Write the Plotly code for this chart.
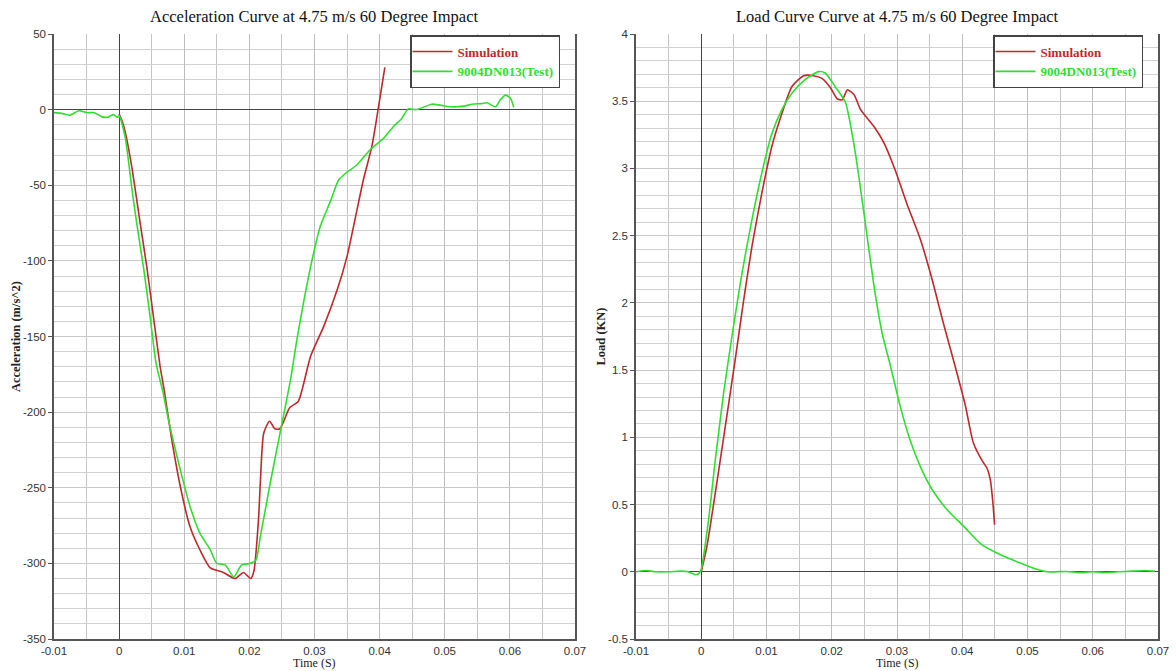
import plotly.graph_objects as go

# ---------------- data ----------------
acc_sim_t = [0.0, 0.0005, 0.001, 0.00195, 0.00323, 0.00425, 0.00527, 0.0063, 0.0069, 0.0080,
             0.00939, 0.0109, 0.0124, 0.0140, 0.0160, 0.0178, 0.0191, 0.0202, 0.0207, 0.0214,
             0.0217, 0.0222, 0.0231, 0.0239, 0.0247, 0.0262, 0.0275, 0.0294, 0.0314, 0.0335,
             0.0350, 0.0363, 0.0375, 0.0388, 0.0398, 0.0408]
acc_sim_v = [-3, -8, -16, -38, -75, -104, -137, -170, -185, -216,
             -249, -276, -291, -303, -306, -310, -306, -310, -305, -271,
             -245, -214, -206, -211, -211, -197, -193, -163, -143.5, -119,
             -97, -71, -46.5, -24.5, 1, 28]

acc_test_t = [-0.01, -0.0088, -0.0076, -0.0062, -0.005, -0.0038, -0.0026, -0.00175, -0.00086, -0.00026,
              0.0, 0.00092, 0.00204, 0.0027, 0.00373, 0.00476, 0.00568, 0.0068, 0.00757, 0.00939,
              0.0109, 0.0124, 0.0140, 0.0150, 0.0163, 0.0176, 0.0188, 0.0201, 0.0210, 0.0217,
              0.0232, 0.0247, 0.0263, 0.0273, 0.0294, 0.0309, 0.0325, 0.0337, 0.0348, 0.0365,
              0.0385, 0.0406, 0.0421, 0.0434, 0.0444, 0.0454, 0.0459, 0.0480, 0.0493, 0.0508,
              0.0529, 0.0542, 0.0557, 0.0565, 0.0578, 0.0585, 0.0593, 0.0601, 0.0606]
acc_test_v = [-2, -2.5, -3.7, -0.7, -2, -2, -4.8, -5, -3.3, -5,
              -4, -18, -55, -75, -104, -137, -168, -188, -205, -238,
              -262.5, -280, -291, -300, -301, -309, -301, -300, -298, -282,
              -247, -214, -179, -152, -104, -77, -60, -46.5, -42, -36.6,
              -26.7, -19, -11.3, -5.8, 0.5, 0, 0.3, 3.6, 3, 1.9,
              2.3, 3.6, 4, 4.5, 1.9, 6.3, 9.6, 7.5, 1.5]

load_sim_t = [0.0, 0.00087, 0.00215, 0.00368, 0.00521, 0.0065, 0.00777, 0.0093, 0.01083, 0.01237,
              0.0139, 0.0157, 0.0172, 0.0185, 0.0198, 0.0208, 0.0216, 0.0224, 0.0234, 0.0244,
              0.0265, 0.0280, 0.0297, 0.0315, 0.0336, 0.0354, 0.0371, 0.0389, 0.0405, 0.0417,
              0.0430, 0.0438, 0.0443, 0.0447, 0.04495]
load_sim_v = [0.0, 0.19, 0.585, 1.08, 1.58, 2.02, 2.42, 2.82, 3.165, 3.41,
              3.61, 3.69, 3.69, 3.67, 3.60, 3.52, 3.51, 3.585, 3.55, 3.44,
              3.31, 3.19, 2.99, 2.74, 2.47, 2.17, 1.85, 1.53, 1.23, 0.96,
              0.83, 0.77, 0.685, 0.51, 0.35]

load_test_t = [-0.01, -0.0085, -0.007, -0.005, -0.003, -0.002, -0.0009, -0.0003, 0.0, 0.00113,
               0.00215, 0.00343, 0.0047, 0.00624, 0.00777, 0.0093, 0.01083, 0.01237, 0.0139, 0.0159,
               0.0180, 0.0190, 0.0205, 0.0221, 0.0236, 0.0249, 0.0264, 0.0277, 0.0290, 0.0305,
               0.0320, 0.0336, 0.0354, 0.0377, 0.0402, 0.0428, 0.0453, 0.0489, 0.0513, 0.0530,
               0.0560, 0.0580, 0.0600, 0.0620, 0.0640, 0.0660, 0.0680, 0.0695]
load_test_v = [0.0, 0.01, 0.0, 0.0, 0.005, 0.0, -0.022, -0.01, 0.02, 0.39,
               0.83, 1.33, 1.75, 2.22, 2.62, 2.97, 3.26, 3.44, 3.56, 3.66,
               3.72, 3.71, 3.61, 3.49, 3.12, 2.68, 2.15, 1.78, 1.53, 1.23,
               0.98, 0.78, 0.61, 0.46, 0.34, 0.21, 0.14, 0.065, 0.02, 0.0,
               0.002, -0.005, 0.0, -0.005, 0.0, 0.005, 0.01, 0.005]

x_tickvals = [-0.01, 0, 0.01, 0.02, 0.03, 0.04, 0.05, 0.06, 0.07]
x_ticktext = ["-0.01", "0", "0.01", "0.02", "0.03", "0.04", "0.05", "0.06", "0.07"]
acc_tickvals = [50, 0, -50, -100, -150, -200, -250, -300, -350]
acc_ticktext = ["50", "0", "-50", "-100", "-150", "-200", "-250", "-300", "-350"]
load_tickvals = [4, 3.5, 3, 2.5, 2, 1.5, 1, 0.5, 0, -0.5]
load_ticktext = ["4", "3.5", "3", "2.5", "2", "1.5", "1", "0.5", "0", "-0.5"]

titles = ["Acceleration Curve at 4.75 m/s 60 Degree Impact",
          "Load Curve Curve at 4.75 m/s 60 Degree Impact"]
x_title = "Time (S)"
series_names = ["Simulation", "9004DN013(Test)"]

# ---------------- style ----------------
RED = "#c0282a"
GREEN = "#2ee02e"
W, H = 1176, 671
SERIF = "Liberation Serif"
SANS = "Liberation Sans"

fig = go.Figure()

def legname(name, color):
    return f"<span style='color:{color}'><b>{name}</b></span>"

fig.add_trace(go.Scatter(x=acc_sim_t, y=acc_sim_v, mode="lines", name=legname(series_names[0], RED),
                         line=dict(color=RED, width=1.6, shape="spline", smoothing=0.6),
                         xaxis="x", yaxis="y", legend="legend"))
fig.add_trace(go.Scatter(x=acc_test_t, y=acc_test_v, mode="lines", name=legname(series_names[1], GREEN),
                         line=dict(color=GREEN, width=1.6, shape="spline", smoothing=0.6),
                         xaxis="x", yaxis="y", legend="legend"))
fig.add_trace(go.Scatter(x=load_sim_t, y=load_sim_v, mode="lines", name=legname(series_names[0], RED),
                         line=dict(color=RED, width=1.6, shape="spline", smoothing=0.6),
                         xaxis="x2", yaxis="y2", legend="legend2"))
fig.add_trace(go.Scatter(x=load_test_t, y=load_test_v, mode="lines", name=legname(series_names[1], GREEN),
                         line=dict(color=GREEN, width=1.6, shape="spline", smoothing=0.6),
                         xaxis="x2", yaxis="y2", legend="legend2"))

def px_x(p):
    return p / W

def px_y(p):
    return 1 - p / H

ydom = [px_y(639), px_y(34)]
tickfont = dict(family=SANS, size=11.5, color="#333333")

common_x = dict(range=[-0.01, 0.07], tickvals=x_tickvals, ticktext=x_ticktext,
                showgrid=True, gridcolor="#bdbdbd", gridwidth=1,
                minor=dict(dtick=0.005, tick0=0, showgrid=True, gridcolor="#c4c4c4", gridwidth=1),
                zeroline=True, zerolinecolor="#444444", zerolinewidth=1,
                showline=True, linecolor="#555555", linewidth=1.5, mirror=False,
                ticks="", ticklabelstandoff=0,
                tickfont=tickfont, fixedrange=True, automargin=False)

common_y = dict(showgrid=True, gridcolor="#c8c8c8", gridwidth=1,
                zeroline=True, zerolinecolor="#444444", zerolinewidth=1,
                showline=True, linecolor="#555555", linewidth=1.5, mirror=True,
                ticks="outside", ticklen=4, tickcolor="#555555",
                tickfont=tickfont, fixedrange=True, automargin=False)

legend_style = dict(xanchor="left", yanchor="top",
                    bgcolor="white", bordercolor="#444444", borderwidth=1.5,
                    font=dict(family=SERIF, size=13), tracegroupgap=0, itemwidth=40,
                    indentation=-4)

fig.update_layout(
    width=W, height=H,
    margin=dict(l=0, r=0, t=0, b=0, autoexpand=False),
    paper_bgcolor="white", plot_bgcolor="white",
    showlegend=True,
    xaxis=dict(domain=[px_x(54), px_x(575)], anchor="y", **common_x),
    yaxis=dict(domain=ydom, anchor="x", range=[-350, 50], tickvals=acc_tickvals, ticktext=acc_ticktext,
               minor=dict(dtick=10, tick0=0, showgrid=True, gridcolor="#d0d0d0", gridwidth=1),
               title=dict(text="<b>Acceleration (m/s^2)</b>", font=dict(family=SERIF, size=12.5, color="#222222"), standoff=0),
               **common_y),
    xaxis2=dict(domain=[px_x(636), px_x(1158)], anchor="y2", **common_x),
    yaxis2=dict(domain=ydom, anchor="x2", range=[-0.5, 4], tickvals=load_tickvals, ticktext=load_ticktext,
                minor=dict(dtick=0.1, tick0=0, showgrid=True, gridcolor="#d0d0d0", gridwidth=1),
                title=dict(text="<b>Load (KN)</b>", font=dict(family=SERIF, size=12.5, color="#222222"), standoff=0),
                **common_y),
    legend=dict(x=px_x(410), y=px_y(35), **legend_style),
    legend2=dict(x=px_x(993), y=px_y(35), **legend_style),
    annotations=[
        dict(text=titles[0], x=px_x(314), y=px_y(17), xref="paper", yref="paper",
             showarrow=False, xanchor="center", yanchor="middle",
             font=dict(family=SERIF, size=16.5, color="#111111")),
        dict(text=titles[1], x=px_x(897), y=px_y(17), xref="paper", yref="paper",
             showarrow=False, xanchor="center", yanchor="middle",
             font=dict(family=SERIF, size=16.5, color="#111111")),
        dict(text=x_title, x=px_x(314), y=px_y(663), xref="paper", yref="paper",
             showarrow=False, xanchor="center", yanchor="middle",
             font=dict(family=SERIF, size=12, color="#222222")),
        dict(text=x_title, x=px_x(897), y=px_y(663), xref="paper", yref="paper",
             showarrow=False, xanchor="center", yanchor="middle",
             font=dict(family=SERIF, size=12, color="#222222")),
    ],
)

fig.write_html("out.html")
